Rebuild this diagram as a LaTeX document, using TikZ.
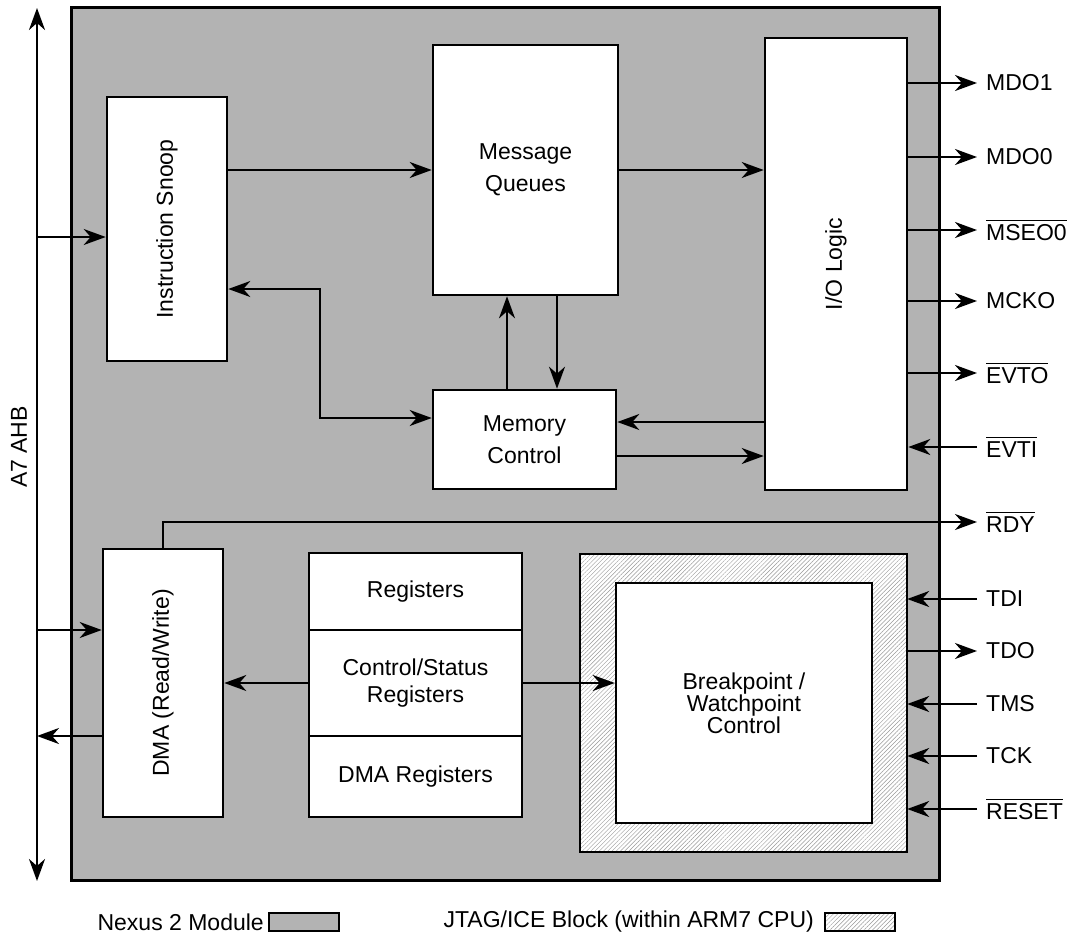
\documentclass[tikz,border=0pt]{standalone}
\usepackage{fontspec}
\usepackage{graphicx}
\setmainfont{Liberation Sans}
\usetikzlibrary{arrows.meta,patterns.meta,calc}
\definecolor{modgray}{RGB}{179,179,179}
% active-low signal names: a bar drawn a little above the letters
\newcommand\ovl[1]{\setbox0\hbox{#1}\rlap{\rule[\dimexpr\ht0+3pt\relax]{\wd0}{1.3pt}}\box0}
\newcommand\vtext[1]{\rotatebox{90}{#1}}

\begin{document}
\begin{tikzpicture}[x=1pt,y=-1pt,
  font=\fontsize{23}{27}\selectfont,
  tip/.tip={Stealth[length=22pt,width=16pt,inset=7pt]},
  blk/.style={draw,line width=2.6pt,fill=white,inner sep=0pt,align=center},
  hatch/.style={pattern={Lines[angle=45,distance=3pt,line width=0.45pt]},pattern color=black!40},
  conn/.style={line width=2.4pt,-tip},
  conn2/.style={line width=2.4pt,tip-tip},
  pinlbl/.style={anchor=west,inner sep=0pt}]
\useasboundingbox (0,0) rectangle (1072,937);

% Nexus module outline
\node[draw,line width=3pt,fill=modgray,minimum width=868pt,minimum height=873pt,inner sep=0pt]
  (nexus) at (505,443.5) {};

% AHB bus
\coordinate (busT) at (37,8);
\coordinate (busB) at (37,881);
\draw[conn2] (busT) -- (busB);
\node[inner sep=0pt] (ahb) at (19,447) {\vtext{A7 AHB}};

% upper blocks
\node[blk,minimum width=120pt,minimum height=264pt] (snoop) at (167,229) {\vtext{Instruction Snoop}};
\node[blk,minimum width=185pt,minimum height=250pt,font=\fontsize{23}{32}\selectfont] (mq) at (525.5,170) {Message\\Queues};
\node[blk,minimum width=142pt,minimum height=452pt] (io) at (836,264) {\vtext{I/O Logic}};
\node[blk,minimum width=183pt,minimum height=99pt,font=\fontsize{23}{32}\selectfont] (mem) at (524.5,439.5) {Memory\\Control};

% lower blocks
\node[blk,minimum width=120pt,minimum height=268pt] (dma) at (163,683) {\vtext{DMA (Read/Write)}};
\node[blk,minimum width=213pt,minimum height=77pt] (reg) at (415.5,591.5) {Registers};
\node[blk,minimum width=213pt,minimum height=106pt,font=\fontsize{23}{27}\selectfont] (csr) at (415.5,683) {Control/Status\\Registers};
\node[blk,minimum width=213pt,minimum height=81pt] (dmar) at (415.5,776.5) {DMA Registers};

% JTAG/ICE block with breakpoint unit
\node[draw,line width=2.6pt,preaction={fill=white},hatch,minimum width=327pt,minimum height=298pt,inner sep=0pt]
  (jtag) at (743.5,703) {};
\node[blk,minimum width=256pt,minimum height=240pt,font=\fontsize{23}{22}\selectfont] (bp) at (744,703) {Breakpoint /\\Watchpoint\\Control};

% bus connections
\coordinate (b1) at (37,237);
\coordinate (b2) at (37,630);
\coordinate (b3) at (37,736);
\draw[conn] (b1) -- (b1 -| snoop.west);
\draw[conn] (b2) -- (b2 -| dma.west);
\draw[conn] (b3 -| dma.west) -- (b3);

% internal data paths
\draw[conn] (mq.west -| snoop.east) -- (mq.west);
\draw[conn] (mq.east) -- (mq.east -| io.west);
\coordinate (j1) at (320,289);
\coordinate (j2) at (320,418);
\draw[conn2] (j1 -| snoop.east) -- (j1) -- (j2) -- (j2 -| mem.west);
\coordinate (u1) at (507,0);
\coordinate (u2) at (557,0);
\draw[conn] (u1 |- mem.north) -- (u1 |- mq.south);
\draw[conn] (u2 |- mq.south) -- (u2 |- mem.north);
\coordinate (h1) at (0,422);
\coordinate (h2) at (0,456);
\draw[conn] (h1 -| io.west) -- (h1 -| mem.east);
\draw[conn] (h2 -| mem.east) -- (h2 -| io.west);
\draw[conn] (csr.west) -- (csr.west -| dma.east);
\draw[conn] (csr.east) -- (csr.east -| bp.west);

% external pins
\foreach \nm/\yy/\txt in {MDOa/83/MDO1, MDOb/157/MDO0, MSEO/230/\ovl{MSEO0}, MCKO/301/MCKO,
    EVTO/373/\ovl{EVTO}, EVTI/447/\ovl{EVTI}, RDY/522/\ovl{RDY}, TDI/599/TDI, TDO/651/TDO,
    TMS/704/TMS, TCK/756/TCK, RST/809/\ovl{RESET}}{
  \coordinate (p\nm) at (977,\yy);
  \node[pinlbl] (l\nm) at (986,\yy) {\txt};
}
\draw[conn] (pMDOa -| io.east) -- (pMDOa);
\draw[conn] (pMDOb -| io.east) -- (pMDOb);
\draw[conn] (pMSEO -| io.east) -- (pMSEO);
\draw[conn] (pMCKO -| io.east) -- (pMCKO);
\draw[conn] (pEVTO -| io.east) -- (pEVTO);
\draw[conn] (pEVTI) -- (pEVTI -| io.east);
\draw[conn] (dma.north) |- (pRDY);
\draw[conn] (pTDI) -- (pTDI -| jtag.east);
\draw[conn] (pTDO -| jtag.east) -- (pTDO);
\draw[conn] (pTMS) -- (pTMS -| jtag.east);
\draw[conn] (pTCK) -- (pTCK -| jtag.east);
\draw[conn] (pRST) -- (pRST -| jtag.east);

% legend
\node[anchor=east,inner sep=0pt] (lgA) at (264,922) {Nexus 2 Module};
\node[draw,line width=2pt,fill=modgray,minimum width=70pt,minimum height=18pt,inner sep=0pt] (lgAbox) at (304,922) {};
\node[anchor=east,inner sep=0pt] (lgB) at (814,922) {JTAG/ICE Block (within ARM7 CPU)};
\node[draw,line width=2pt,preaction={fill=white},hatch,minimum width=70pt,minimum height=18pt,inner sep=0pt] (lgBbox) at (860,922) {};
\end{tikzpicture}
\end{document}
